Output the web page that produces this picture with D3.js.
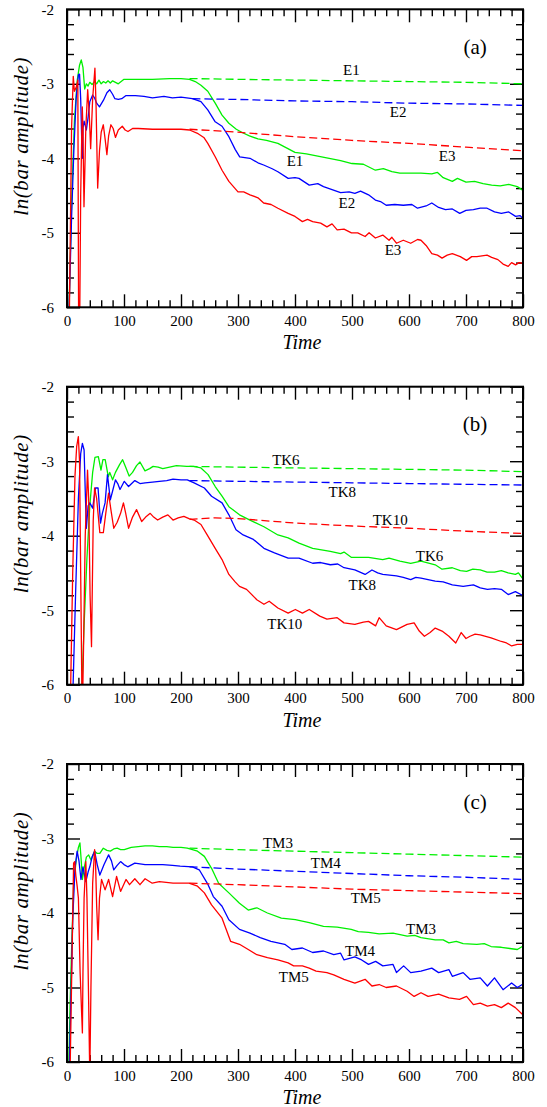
<!DOCTYPE html>
<html>
<head>
<meta charset="utf-8">
<script src="https://cdn.jsdelivr.net/npm/d3@7"></script>
<style>
    body { margin: 0; background: #fff; }
    svg { display: block; }
    text { font-family: "Liberation Serif", "Times New Roman", serif; }
</style>
</head>
<body>
<div id="chart"></div>
<script>
// ---------------------------//
//       DATA                 //
// ---------------------------//
let xMajor = [0, 100, 200, 300, 400, 500, 600, 700, 800];
let yMajor = [-2, -3, -4, -5, -6];

// panel (a)
let e1Solid = [[3,-6.2],[8,-4.6],[13,-3.5],[18,-2.95],[22,-2.75],[25,-2.68],[28,-2.78],[31,-3.07],[34,-3.0],[37,-3.03],[40,-2.98],[44,-3.01],[48,-2.97],[52,-3.0],[56,-2.95],[60,-3.0],[64,-2.97],[68,-2.99],[72,-2.96],[76,-2.99],[80,-2.96],[85,-2.98],[90,-3.0],[95,-2.97],[100,-2.94],[120,-2.94],[150,-2.94],[180,-2.93],[200,-2.93],[215,-2.94],[225,-2.97],[235,-3.02],[247,-3.1],[255,-3.2],[260,-3.26],[272,-3.42],[284,-3.53],[297,-3.61],[309,-3.66],[320,-3.7],[335,-3.74],[350,-3.76],[370,-3.8],[385,-3.86],[400,-3.92],[420,-3.94],[440,-3.97],[460,-4.0],[480,-4.03],[500,-4.07],[520,-4.08],[541,-4.16],[555,-4.14],[570,-4.18],[584,-4.2],[600,-4.2],[621,-4.2],[640,-4.21],[650,-4.19],[660,-4.26],[676,-4.31],[685,-4.27],[700,-4.32],[715,-4.31],[730,-4.34],[745,-4.36],[760,-4.37],[775,-4.35],[790,-4.38],[800,-4.43]];
let e1Dash = [[215,-2.93],[300,-2.94],[400,-2.95],[500,-2.96],[600,-2.97],[700,-2.98],[800,-3.0]];
let e2Solid = [[3,-6.2],[8,-4.8],[12,-3.9],[16,-3.2],[20,-2.88],[22,-2.87],[24,-3.2],[26,-3.8],[27,-4.0],[28,-3.6],[30,-3.5],[34,-3.62],[37,-3.45],[40,-3.24],[45,-3.15],[49,-3.2],[52,-3.26],[57,-3.31],[64,-3.22],[70,-3.12],[75,-3.08],[80,-3.14],[84,-3.2],[90,-3.21],[96,-3.2],[103,-3.16],[120,-3.16],[135,-3.17],[150,-3.19],[170,-3.17],[185,-3.19],[200,-3.18],[220,-3.2],[235,-3.24],[247,-3.35],[260,-3.51],[272,-3.57],[284,-3.71],[295,-3.88],[303,-3.98],[321,-4.0],[335,-4.06],[345,-4.09],[360,-4.14],[370,-4.18],[388,-4.27],[400,-4.26],[407,-4.27],[425,-4.36],[440,-4.34],[450,-4.38],[465,-4.42],[480,-4.46],[495,-4.45],[505,-4.47],[515,-4.44],[529,-4.49],[541,-4.56],[550,-4.58],[560,-4.63],[575,-4.62],[590,-4.63],[605,-4.62],[615,-4.67],[630,-4.64],[640,-4.6],[652,-4.66],[664,-4.69],[676,-4.68],[689,-4.74],[700,-4.7],[713,-4.69],[725,-4.67],[737,-4.67],[750,-4.72],[762,-4.74],[775,-4.72],[787,-4.78],[795,-4.77],[800,-4.81]];
let e2Dash = [[220,-3.2],[300,-3.21],[400,-3.23],[500,-3.24],[600,-3.26],[700,-3.27],[800,-3.29]];
let e3Solid = [[4,-6.2],[8,-3.6],[11,-2.9],[13,-3.1],[16,-3.05],[19,-2.95],[20.5,-6.5],[22,-6.5],[24,-4.5],[26.8,-3.31],[28,-3.6],[29.8,-4.65],[33,-3.6],[36.3,-3.08],[39,-3.4],[41.5,-3.87],[45,-3.2],[49,-2.79],[51,-3.3],[53.8,-4.4],[57,-3.9],[60,-3.65],[63.7,-3.55],[67,-3.75],[70,-3.95],[73,-3.7],[77,-3.55],[81,-3.6],[85,-3.72],[90,-3.62],[97,-3.57],[102,-3.62],[107,-3.64],[115,-3.6],[125,-3.6],[150,-3.61],[180,-3.61],[200,-3.61],[215,-3.62],[230,-3.67],[240,-3.72],[247,-3.8],[260,-3.98],[272,-4.16],[284,-4.31],[300,-4.45],[310,-4.45],[321,-4.49],[335,-4.53],[345,-4.6],[358,-4.62],[370,-4.67],[388,-4.74],[400,-4.78],[413,-4.85],[422,-4.82],[431,-4.85],[445,-4.87],[456,-4.92],[465,-4.88],[474,-4.96],[486,-4.95],[499,-5.0],[510,-5.0],[523,-5.05],[530,-5.0],[541,-5.07],[554,-5.03],[565,-5.1],[570,-5.06],[578,-5.14],[590,-5.1],[603,-5.14],[615,-5.09],[621,-5.1],[630,-5.17],[640,-5.28],[650,-5.3],[658,-5.34],[667,-5.3],[676,-5.28],[690,-5.32],[701,-5.37],[710,-5.32],[719,-5.32],[737,-5.3],[745,-5.33],[756,-5.36],[765,-5.42],[774,-5.45],[780,-5.4],[787,-5.43],[793,-5.4],[800,-5.41]];
let e3Dash = [[215,-3.61],[300,-3.65],[400,-3.71],[500,-3.76],[600,-3.8],[700,-3.85],[800,-3.9]];

// panel (b)
let tk6Solid = [[25,-6.3],[30,-5.2],[35,-4.3],[40,-3.6],[45,-3.15],[49,-2.95],[55,-2.94],[59.6,-3.12],[63,-2.98],[67,-2.98],[72.5,-3.21],[75,-3.15],[80,-3.25],[85,-3.15],[92,-3.05],[97.6,-2.98],[103,-3.08],[109,-3.2],[115,-3.15],[122,-3.06],[128,-3.01],[136.8,-3.13],[145,-3.1],[151,-3.07],[160,-3.08],[168,-3.1],[180,-3.08],[192,-3.06],[210,-3.07],[222,-3.07],[235,-3.09],[247.5,-3.18],[260,-3.34],[272,-3.47],[284,-3.61],[302.6,-3.72],[321,-3.79],[345.5,-3.88],[370,-3.99],[388,-4.03],[407,-4.1],[431,-4.17],[462,-4.21],[480,-4.24],[486,-4.22],[498.6,-4.29],[529,-4.29],[554,-4.32],[565,-4.3],[584,-4.34],[603,-4.37],[621,-4.34],[646,-4.39],[658,-4.45],[676,-4.43],[690,-4.47],[701,-4.48],[712,-4.45],[725,-4.46],[737,-4.49],[750,-4.49],[762,-4.47],[774,-4.5],[786.6,-4.52],[792,-4.5],[798.8,-4.57]];
let tk6Dash = [[215,-3.07],[300,-3.08],[400,-3.09],[500,-3.1],[600,-3.11],[700,-3.12],[800,-3.14]];
let tk8Solid = [[10,-6.2],[15,-4.8],[20,-3.5],[24,-2.9],[27,-2.76],[30,-2.85],[32,-3.4],[34,-3.9],[37,-3.6],[40,-3.56],[45,-3.63],[50,-3.36],[54.5,-3.36],[58.8,-3.83],[62,-3.7],[66.8,-3.56],[71,-3.18],[76,-3.52],[80,-3.4],[85,-3.25],[89,-3.3],[93,-3.38],[100.5,-3.27],[108,-3.34],[119,-3.26],[128,-3.3],[137,-3.29],[150,-3.28],[162,-3.27],[175,-3.26],[186,-3.24],[200,-3.25],[211,-3.25],[223,-3.29],[241,-3.36],[253.6,-3.47],[272,-3.56],[284,-3.72],[296.5,-3.92],[309,-3.99],[327,-4.05],[345.5,-4.17],[364,-4.23],[388,-4.3],[407,-4.3],[431,-4.37],[445,-4.36],[462,-4.39],[475,-4.38],[486,-4.43],[505,-4.46],[523,-4.52],[535,-4.46],[545,-4.5],[554,-4.52],[578,-4.54],[590,-4.56],[603,-4.59],[612,-4.56],[621,-4.57],[646,-4.61],[660,-4.62],[676,-4.66],[695,-4.68],[713,-4.66],[725,-4.7],[737.6,-4.72],[750,-4.71],[762,-4.72],[774,-4.79],[786.6,-4.75],[798.8,-4.8]];
let tk8Dash = [[215,-3.26],[300,-3.27],[400,-3.28],[500,-3.29],[600,-3.3],[700,-3.31],[800,-3.32]];
let tk10Solid = [[6,-6.2],[10,-4.5],[14,-3.2],[17,-2.8],[19.9,-2.67],[22,-3.0],[24,-4.5],[26,-6.0],[27,-6.4],[29,-5.5],[32,-4.0],[36,-3.12],[38,-3.5],[40.5,-4.8],[43,-5.49],[46,-3.8],[48.4,-3.36],[52,-3.5],[57.6,-3.96],[63.7,-3.96],[68,-3.7],[72.9,-3.43],[77,-3.65],[82,-3.9],[88,-3.82],[94,-3.7],[99,-3.56],[103,-3.7],[108,-3.9],[115,-3.75],[122,-3.65],[131,-3.81],[138,-3.75],[146,-3.7],[152,-3.75],[159,-3.79],[168,-3.75],[177,-3.72],[186,-3.79],[195,-3.76],[205,-3.74],[214,-3.77],[223,-3.79],[235,-3.85],[247.5,-4.01],[260,-4.17],[272,-4.32],[284,-4.52],[295,-4.62],[302.6,-4.68],[315,-4.72],[333,-4.86],[345.5,-4.92],[354.7,-4.88],[370,-4.97],[388,-5.04],[400.6,-4.99],[413,-5.04],[425,-4.99],[443.5,-5.08],[456,-5.12],[474,-5.1],[486,-5.17],[505,-5.19],[520,-5.16],[529,-5.15],[541.5,-5.21],[547.6,-5.1],[560,-5.21],[578,-5.26],[596.7,-5.19],[609,-5.17],[618,-5.28],[627,-5.35],[637,-5.3],[646,-5.24],[658,-5.28],[670,-5.35],[682,-5.44],[691.6,-5.3],[700,-5.38],[707,-5.35],[716,-5.32],[725,-5.33],[744,-5.37],[762,-5.42],[771,-5.44],[780,-5.48],[790,-5.46],[798.8,-5.46]];
let tk10Dash = [[215,-3.78],[260,-3.76],[300,-3.77],[400,-3.83],[500,-3.87],[600,-3.9],[700,-3.94],[800,-3.97]];

// panel (c)
let tm3Solid = [[3,-6.1],[5.5,-5.2],[8,-4.5],[11.6,-3.64],[16,-3.29],[20,-3.12],[22.7,-3.06],[25,-3.3],[27,-3.55],[30,-3.4],[34,-3.25],[38,-3.22],[42,-3.29],[48.4,-3.17],[53,-3.2],[57.6,-3.2],[63.7,-3.13],[70,-3.16],[76,-3.17],[82,-3.14],[88,-3.13],[94,-3.15],[100.5,-3.15],[112.7,-3.12],[125,-3.11],[137,-3.1],[150,-3.1],[162,-3.11],[175,-3.11],[186,-3.12],[200,-3.12],[211,-3.13],[229,-3.17],[241,-3.24],[253.6,-3.4],[266,-3.6],[284,-3.73],[302.6,-3.87],[318,-3.96],[333,-3.93],[351.6,-4.0],[376,-4.07],[400.6,-4.09],[425,-4.13],[450,-4.18],[474,-4.19],[498.6,-4.22],[511,-4.25],[529,-4.26],[547.6,-4.28],[572,-4.27],[596.7,-4.31],[610,-4.3],[621,-4.33],[646,-4.36],[660,-4.36],[670,-4.4],[683,-4.38],[695,-4.41],[719,-4.42],[732,-4.41],[744,-4.45],[762,-4.46],[780,-4.48],[790,-4.49],[798.8,-4.45]];
let tm3Dash = [[215,-3.13],[300,-3.15],[400,-3.17],[500,-3.19],[600,-3.21],[700,-3.23],[800,-3.25]];
let tm4Solid = [[4,-6.1],[10,-4.09],[14,-3.4],[17.8,-3.17],[21,-3.3],[24.5,-3.55],[28,-3.38],[33,-3.58],[37,-3.45],[40,-3.38],[44,-3.25],[48.4,-3.17],[53,-3.35],[57.6,-3.49],[65,-3.35],[73,-3.22],[78,-3.3],[82,-3.42],[88,-3.36],[94,-3.31],[100,-3.35],[106.6,-3.38],[119,-3.33],[137,-3.35],[150,-3.35],[168,-3.35],[185,-3.36],[198.5,-3.37],[220,-3.38],[232,-3.42],[247.5,-3.62],[256.7,-3.78],[272,-3.91],[284,-4.09],[302.6,-4.22],[321,-4.27],[339,-4.33],[357.8,-4.38],[382,-4.42],[394.5,-4.49],[413,-4.47],[431,-4.53],[450,-4.51],[468,-4.56],[480,-4.54],[486,-4.63],[505,-4.59],[517,-4.63],[529,-4.69],[541.5,-4.65],[554,-4.71],[572,-4.69],[578,-4.8],[590.6,-4.71],[603,-4.8],[621,-4.78],[640,-4.74],[652,-4.8],[670,-4.76],[676,-4.85],[695,-4.8],[707,-4.89],[725,-4.87],[737.6,-4.98],[750,-4.87],[765,-5.03],[780,-4.94],[790,-5.0],[798.8,-4.96]];
let tm4Dash = [[215,-3.38],[300,-3.41],[400,-3.44],[500,-3.47],[600,-3.5],[700,-3.52],[800,-3.55]];
let tm5Solid = [[5.5,-6.1],[9,-4.5],[11.6,-3.33],[13.5,-3.31],[15.5,-3.5],[17.8,-3.64],[20,-3.8],[23,-4.8],[27,-5.61],[28,-4.8],[30,-3.8],[33,-3.31],[35,-3.8],[38,-5.2],[40,-6.2],[42,-5.0],[45,-3.6],[48.4,-3.15],[50,-3.3],[52,-3.9],[54.5,-4.36],[57,-3.8],[60.6,-3.55],[66.8,-3.69],[73,-3.55],[80,-3.78],[87,-3.51],[94,-3.71],[103.5,-3.55],[109.7,-3.62],[119,-3.54],[128,-3.62],[137,-3.54],[149.5,-3.6],[162,-3.58],[186,-3.6],[214,-3.6],[229,-3.64],[241,-3.73],[253.6,-3.89],[272,-4.07],[287,-4.38],[302.6,-4.42],[318,-4.49],[333,-4.56],[351.6,-4.6],[370,-4.63],[388,-4.67],[397.6,-4.71],[413,-4.71],[425,-4.74],[437,-4.78],[456,-4.8],[468,-4.83],[486,-4.89],[505,-4.94],[523,-4.89],[535,-4.98],[547.6,-4.96],[560,-5.0],[578,-4.98],[596.7,-5.05],[609,-5.12],[621,-5.07],[633.5,-5.12],[652,-5.09],[670,-5.14],[688.6,-5.16],[701,-5.12],[713,-5.23],[725,-5.21],[737.6,-5.25],[750,-5.23],[762,-5.27],[774,-5.21],[786.6,-5.27],[798.8,-5.36]];
let tm5Dash = [[215,-3.6],[300,-3.62],[400,-3.65],[500,-3.68],[600,-3.7],[700,-3.72],[800,-3.74]];

// curve labels: [text, time, value]
let labelsA = [["E1", 499, -2.81], ["E2", 581, -3.37], ["E3", 667, -3.96], ["E1", 400, -4.03], ["E2", 491, -4.59], ["E3", 572, -5.23]];
let labelsB = [["TK6", 384, -2.98], ["TK8", 483, -3.41], ["TK10", 567, -3.79], ["TK6", 636, -4.27], ["TK8", 518, -4.66], ["TK10", 382, -5.18]];
let labelsC = [["TM3", 370, -3.06], ["TM4", 454, -3.33], ["TM5", 524, -3.79], ["TM3", 621, -4.21], ["TM4", 514, -4.5], ["TM5", 398, -4.86]];

// ---------------------------//
//       LAYOUT               //
// ---------------------------//
let width = 547, height = 1107;
let left = 67, right = 523, plotH = 298;
let green = "#00f000", blue = "#0000ff", red = "#ff0000";

let panels = [
    { id: "a", top: 9.3, tag: "(a)", labels: labelsA,
      series: [[e1Solid, green, false], [e2Solid, blue, false], [e3Solid, red, false],
               [e1Dash, green, true], [e2Dash, blue, true], [e3Dash, red, true]] },
    { id: "b", top: 386.7, tag: "(b)", labels: labelsB,
      series: [[tk6Solid, green, false], [tk8Solid, blue, false], [tk10Solid, red, false],
               [tk6Dash, green, true], [tk8Dash, blue, true], [tk10Dash, red, true]] },
    { id: "c", top: 764, tag: "(c)", labels: labelsC,
      series: [[tm3Solid, green, false], [tm4Solid, blue, false], [tm5Solid, red, false],
               [tm3Dash, green, true], [tm4Dash, blue, true], [tm5Dash, red, true]] }
];

let svg = d3.select("#chart")
    .append("svg")
    .attr("width", width)
    .attr("height", height);

let x = d3.scaleLinear().domain([0, 800]).range([left, right]);
let xMinor = d3.range(0, 801, 20).filter(d => d % 100 !== 0);
let yMinor = d3.range(-6, -1.99, 0.2).map(d => +d.toFixed(1)).filter(d => Math.abs(d - Math.round(d)) > 0.01);

function styleAxis(g) {
    g.select(".domain").remove();
    g.selectAll(".tick line").attr("stroke", "#000").attr("stroke-width", 1.4);
    g.attr("font-family", "'Liberation Serif', 'Times New Roman', serif").attr("font-size", 15);
    g.selectAll("text").attr("fill", "#000");
}

panels.forEach(p => {
    let bottom = p.top + plotH;
    let y = d3.scaleLinear().domain([-6, -2]).range([bottom, p.top]);
    let g = svg.append("g");

    g.append("clipPath").attr("id", "clip-" + p.id)
        .append("rect")
        .attr("x", left).attr("y", p.top)
        .attr("width", right - left).attr("height", plotH);

    // ticks, all pointing inwards
    g.append("g").attr("transform", "translate(0," + bottom + ")")
        .call(d3.axisBottom(x).tickValues(xMajor).tickSize(-13).tickPadding(8).tickFormat(d => String(d)))
        .call(styleAxis);
    g.append("g").attr("transform", "translate(0," + bottom + ")")
        .call(d3.axisBottom(x).tickValues(xMinor).tickSize(-7).tickFormat(""))
        .call(styleAxis);
    g.append("g").attr("transform", "translate(0," + p.top + ")")
        .call(d3.axisTop(x).tickValues(xMajor).tickSize(-13).tickFormat(""))
        .call(styleAxis);
    g.append("g").attr("transform", "translate(0," + p.top + ")")
        .call(d3.axisTop(x).tickValues(xMinor).tickSize(-7).tickFormat(""))
        .call(styleAxis);
    g.append("g").attr("transform", "translate(" + left + ",0)")
        .call(d3.axisLeft(y).tickValues(yMajor).tickSize(-13).tickPadding(13).tickFormat(d => String(d)))
        .call(styleAxis);
    g.append("g").attr("transform", "translate(" + left + ",0)")
        .call(d3.axisLeft(y).tickValues(yMinor).tickSize(-7).tickFormat(""))
        .call(styleAxis);
    g.append("g").attr("transform", "translate(" + right + ",0)")
        .call(d3.axisRight(y).tickValues(yMajor).tickSize(-13).tickFormat(""))
        .call(styleAxis);
    g.append("g").attr("transform", "translate(" + right + ",0)")
        .call(d3.axisRight(y).tickValues(yMinor).tickSize(-7).tickFormat(""))
        .call(styleAxis);

    // curves
    let line = d3.line().x(d => x(d[0])).y(d => y(d[1]));
    let curves = g.append("g").attr("clip-path", "url(#clip-" + p.id + ")");
    p.series.forEach(s => {
        curves.append("path")
            .datum(s[0])
            .attr("d", line)
            .attr("fill", "none")
            .attr("stroke", s[1])
            .attr("stroke-width", 1.3)
            .attr("stroke-linejoin", "round")
            .attr("stroke-dasharray", s[2] ? "8,4" : null);
    });

    // frame
    g.append("rect")
        .attr("x", left).attr("y", p.top)
        .attr("width", right - left).attr("height", plotH)
        .attr("fill", "none").attr("stroke", "#000").attr("stroke-width", 2);

    // curve labels
    g.selectAll(".lbl")
        .data(p.labels)
        .enter()
        .append("text")
        .attr("x", d => x(d[1]))
        .attr("y", d => y(d[2]))
        .attr("dy", "0.35em")
        .attr("text-anchor", "middle")
        .attr("font-size", 15)
        .text(d => d[0]);

    g.append("text")
        .attr("x", x(716)).attr("y", y(-2.5))
        .attr("dy", "0.35em")
        .attr("text-anchor", "middle")
        .attr("font-size", 21)
        .text(p.tag);

    // axis titles
    g.append("text")
        .attr("x", 302).attr("y", bottom + 42)
        .attr("text-anchor", "middle")
        .attr("font-size", 20)
        .attr("font-style", "italic")
        .text("Time");

    g.append("text")
        .attr("transform", "translate(28," + (p.top + 127) + ") rotate(-90)")
        .attr("text-anchor", "middle")
        .attr("font-size", 21)
        .attr("font-style", "italic")
        .attr("letter-spacing", 0.6)
        .text("ln(bar amplitude)");
});
</script>
</body>
</html>
